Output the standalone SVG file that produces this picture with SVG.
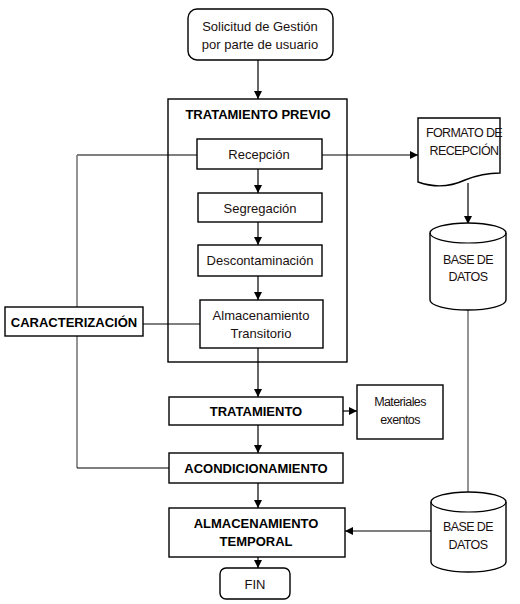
<svg xmlns="http://www.w3.org/2000/svg" width="520" height="604" viewBox="0 0 520 604">
<defs>
<marker id="ah" viewBox="0 0 10 10" refX="10" refY="5" markerWidth="8" markerHeight="8" markerUnits="userSpaceOnUse" orient="auto">
<path d="M0,0 L10,5 L0,10 z" fill="#000"/>
</marker>
</defs>
<style>
.bx{fill:#fff;stroke:#000;stroke-width:1.4}
.fr{fill:none;stroke:#000;stroke-width:1.4}
.t{font-family:"Liberation Sans",Arial,sans-serif;font-size:13px;fill:#1a1010;text-anchor:middle}
.b{font-family:"Liberation Sans",Arial,sans-serif;font-size:13px;font-weight:bold;fill:#000;text-anchor:middle}
.n{font-family:"Liberation Sans",Arial,sans-serif;font-size:12.5px;fill:#1a1010;text-anchor:middle;letter-spacing:-0.6px}
.ln{fill:none;stroke:#000;stroke-width:1.2}
.gl{fill:none;stroke:#707070;stroke-width:1.5}
.ar{fill:none;stroke:#000;stroke-width:1.2;marker-end:url(#ah)}
</style>
<rect width="520" height="604" fill="#fff"/>
<g id="connectors">
<path class="ar" d="M258,60 V99"/>
<path class="ar" d="M258,169 V193"/>
<path class="ar" d="M258,222 V245"/>
<path class="ar" d="M258,276 V300"/>
<path class="ar" d="M258,348 V397"/>
<path class="ar" d="M258,425 V453"/>
<path class="ar" d="M258,483 V508"/>
<path class="ar" d="M258,557 V568"/>
<path class="ar" d="M322,155 H418"/>
<path class="ar" d="M468,183 V224"/>
<path class="gl" d="M468,300 V492"/>
<path class="ar" d="M431,531 H345"/>
<path class="ar" d="M343,411 H357"/>
<path class="ln" d="M197,155 H77"/>
<path class="gl" d="M77,155 V468"/>
<path class="ln" d="M77,468 H169"/>
<path class="ln" d="M143,324 H200"/>
</g>
<g id="solicitud">
<rect class="bx" x="188" y="9" width="145" height="51" rx="9"/>
<text class="t" x="260" y="31">Solicitud de Gestión</text>
<text class="t" x="260" y="49">por parte de usuario</text>
</g>
<g id="tratamiento-previo">
<rect class="fr" x="168" y="99" width="179" height="263"/>
<text class="b" x="258" y="119">TRATAMIENTO PREVIO</text>
</g>
<g id="recepcion">
<rect class="bx" x="197" y="139" width="125" height="30"/>
<text class="t" x="259" y="159">Recepción</text>
</g>
<g id="segregacion">
<rect class="bx" x="198" y="193" width="124" height="29"/>
<text class="t" x="260" y="213">Segregación</text>
</g>
<g id="descontaminacion">
<rect class="bx" x="198" y="245" width="124" height="31"/>
<text class="t" x="260" y="265">Descontaminación</text>
</g>
<g id="almacenamiento-transitorio">
<rect class="bx" x="200" y="300" width="123" height="48"/>
<text class="t" x="261" y="320">Almacenamiento</text>
<text class="t" x="261" y="338">Transitorio</text>
</g>
<g id="caracterizacion">
<rect class="bx" x="5" y="307" width="138" height="29"/>
<text class="b" x="74" y="327">CARACTERIZACIÓN</text>
</g>
<g id="formato">
<path class="bx" d="M418,118 H500 V173 C490,173 480,174 465,180 C450,187 435,188 418,182 Z"/>
<text class="n" x="464" y="137">FORMATO DE</text>
<text class="n" x="464" y="155">RECEPCIÓN</text>
</g>
<g id="base-datos-1">
<path class="bx" d="M430,233 A38,10 0 0 1 506,233 V300 A38,10 0 0 1 430,300 Z"/>
<path class="ln" d="M430,233 A38,10 0 0 0 506,233"/>
<text class="n" x="468" y="264">BASE DE</text>
<text class="n" x="468" y="281">DATOS</text>
</g>
<g id="tratamiento">
<rect class="bx" x="169" y="397" width="174" height="28"/>
<text class="b" x="256" y="416">TRATAMIENTO</text>
</g>
<g id="materiales">
<rect class="bx" x="357" y="385" width="86" height="54"/>
<text class="n" x="400" y="406">Materiales</text>
<text class="n" x="400" y="424">exentos</text>
</g>
<g id="acondicionamiento">
<rect class="bx" x="169" y="453" width="174" height="30"/>
<text class="b" x="256" y="473">ACONDICIONAMIENTO</text>
</g>
<g id="almacenamiento-temporal">
<rect class="bx" x="169" y="508" width="176" height="49"/>
<text class="b" x="256" y="528">ALMACENAMIENTO</text>
<text class="b" x="256" y="546">TEMPORAL</text>
</g>
<g id="base-datos-2">
<path class="bx" d="M431,502 A37.5,10 0 0 1 506,502 V562 A37.5,10 0 0 1 431,562 Z"/>
<path class="ln" d="M431,502 A37.5,10 0 0 0 506,502"/>
<text class="n" x="468" y="531">BASE DE</text>
<text class="n" x="468" y="549">DATOS</text>
</g>
<g id="fin">
<rect class="bx" x="220" y="568" width="70" height="31" rx="6"/>
<text class="t" x="255" y="589">FIN</text>
</g>
</svg>
